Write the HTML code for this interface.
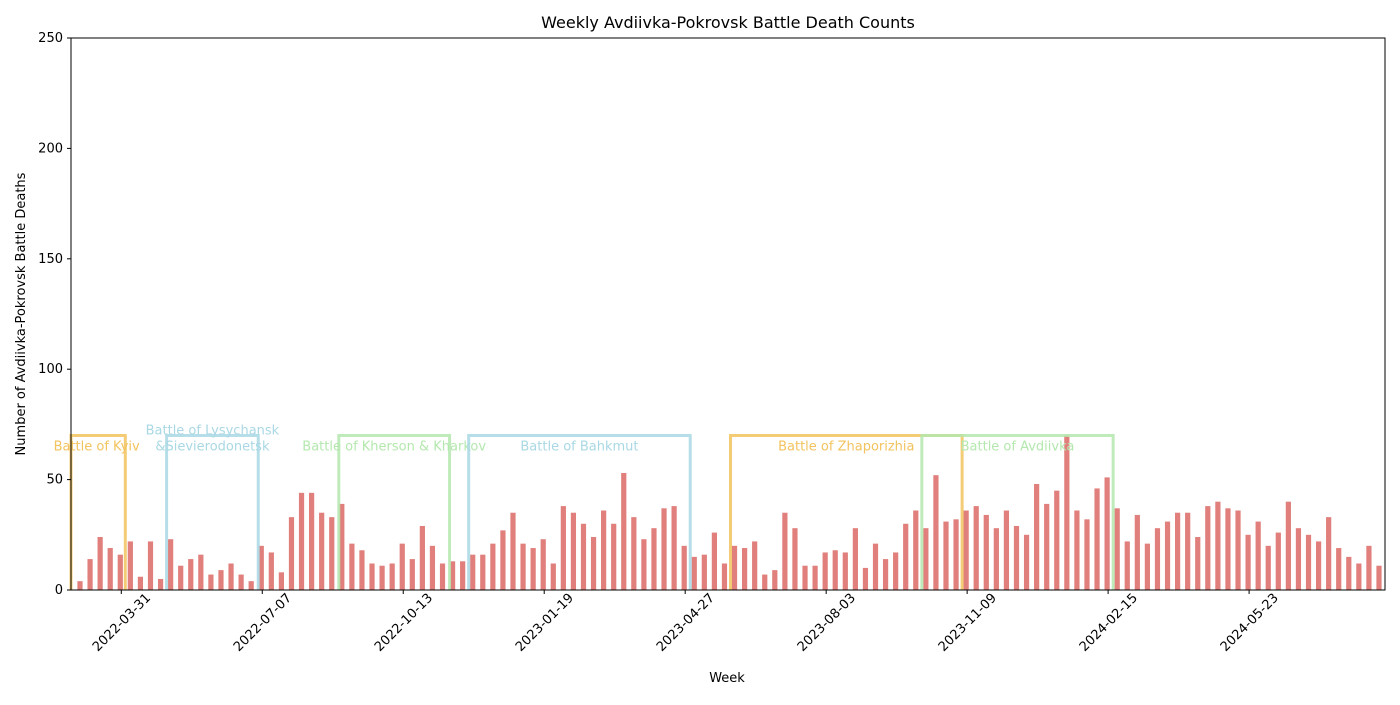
<!DOCTYPE html>
<html><head><meta charset="utf-8"><style>
body{margin:0;background:#fff}
svg{font-family:"DejaVu Sans","Liberation Sans",sans-serif}
</style></head><body>
<svg id="c" width="1400" height="700">
<text x="728" y="28" font-size="16" text-anchor="middle">Weekly Avdiivka-Pokrovsk Battle Death Counts</text>
<text x="727" y="682" font-size="13" text-anchor="middle">Week</text>
<text transform="translate(25,314) rotate(-90)" font-size="13" text-anchor="middle">Number of Avdiivka-Pokrovsk Battle Deaths</text>
<g id="bars"></g><g id="boxes"></g><g id="axes"></g>
</svg>
<script>
const values=[4,14,24,19,16,22,6,22,5,23,11,14,16,7,9,12,7,4,20,17,8,33,44,44,35,33,39,21,18,12,11,12,21,14,29,20,12,13,13,16,16,21,27,35,21,19,23,12,38,35,30,24,36,30,53,33,23,28,37,38,20,15,16,26,12,20,19,22,7,9,35,28,11,11,17,18,17,28,10,21,14,17,30,36,28,52,31,32,36,38,34,28,36,29,25,48,39,45,70,36,32,46,51,37,22,34,21,28,31,35,35,24,38,40,37,36,25,31,20,26,40,28,25,22,33,19,15,12,20,11];
const tickIdx=[4,18,32,46,60,74,88,102,116];
const tickLabels=["2022-03-31","2022-07-07","2022-10-13","2023-01-19","2023-04-27","2023-08-03","2023-11-09","2024-02-15","2024-05-23"];
const yTicks=[0,50,100,150,200,250];
const battleNames=["Battle of Kyiv","Battle of Lysychansk\n&Sievierodonetsk","Battle of Kherson & Kharkov","Battle of Bahkmut","Battle of Zhaporizhia","Battle of Avdiivka"];
const battleStart=[-1.2,8.6,25.7,38.6,64.6,83.6];
const battleEnd=[4.5,17.7,36.7,60.6,87.6,102.6];
const battleHeight=[70,70,70,70,70,70];
const colors=["#f2c35e","#a9d8e4","#b4e8ae","#a9d8e4","#f2c35e","#b4e8ae"];
const X0=71,X1=1385,Y0=590,Y1=38;
const x=i=>80+i*(1379-80)/129;
const y=v=>Y0-(v/250)*(Y0-Y1);
const NS="http://www.w3.org/2000/svg";
function mk(tag,attrs,parent){const e=document.createElementNS(NS,tag);for(const k in attrs)e.setAttribute(k,attrs[k]);parent.appendChild(e);return e;}
const bars=document.getElementById('bars');
values.forEach((v,i)=>{
 const r=mk('rect',{x:x(i)-2.6,y:y(v),width:5.2,height:Y0-y(v),fill:'#e07f7b'},bars);
 
 
});
const boxes=document.getElementById('boxes');
battleNames.forEach((n,k)=>{
 const a=Math.max(x(battleStart[k]),X0),b=x(battleEnd[k]),t=y(battleHeight[k]);
 const p=mk('path',{d:`M${a},${Y0} L${a},${t} L${b},${t} L${b},${Y0}`,fill:'none',stroke:colors[k],'stroke-width':3,opacity:0.85},boxes);
 
 
 const cx=(x(battleStart[k])+b)/2;
 const lines=n.split('\n');
 lines.forEach((ln,j)=>{
  const tx=mk('text',{x:cx,y:t+15-(lines.length-1-j)*16,'font-size':13,'text-anchor':'middle',fill:colors[k]},boxes);
  tx.textContent=ln;
  
  
 });
});
const ax=document.getElementById('axes');
const fr=mk('rect',{x:X0,y:Y1,width:X1-X0,height:Y0-Y1,fill:'none',stroke:'#000','stroke-width':1},ax);


yTicks.forEach(v=>{
 mk('line',{x1:X0-4,x2:X0,y1:y(v),y2:y(v),stroke:'#000'},ax);
 const t=mk('text',{x:X0-8,y:y(v)+4,'font-size':13,'text-anchor':'end'},ax);
 t.textContent=v;
 
 
});
tickIdx.forEach((i,k)=>{
 const px=x(i)+1;
 mk('line',{x1:px,x2:px,y1:Y0,y2:Y0+4,stroke:'#000'},ax);
 const t=mk('text',{transform:`translate(${px},${Y0+32}) rotate(-45)`,'font-size':13,'text-anchor':'middle',dy:'0.35em'},ax);
 t.textContent=tickLabels[k];
 
 
});
</script>
</body></html>
